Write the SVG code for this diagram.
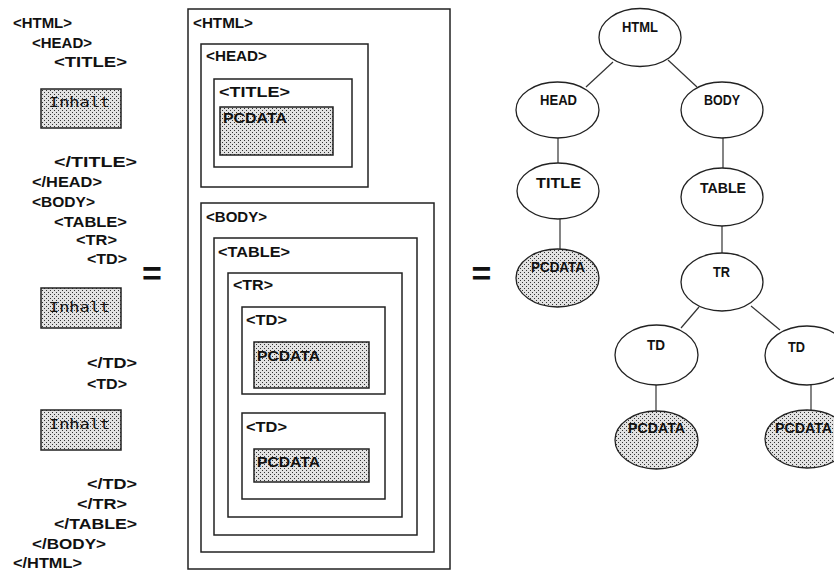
<svg xmlns="http://www.w3.org/2000/svg" width="834" height="572" viewBox="0 0 834 572">
<defs>
<pattern id="dots" width="4" height="4" patternUnits="userSpaceOnUse">
<rect width="4" height="4" fill="#e2e2e2"/>
<rect x="0" y="0" width="1" height="1" fill="#333"/>
<rect x="2" y="2" width="1" height="1" fill="#333"/>
</pattern>
<style>
.t{font-family:"Liberation Sans",Arial,sans-serif;font-weight:bold;font-size:14px;fill:#111}
.n{font-family:"Liberation Sans",Arial,sans-serif;font-weight:bold;font-size:15px;fill:#111}
.i{font-family:"DejaVu Sans Mono","Liberation Mono",monospace;font-size:14px;fill:#111}
.eq{font-family:"Liberation Sans",Arial,sans-serif;font-weight:bold;font-size:34px;fill:#111}
.box{fill:none;stroke:#222;stroke-width:1.5}
.dbox{fill:url(#dots);stroke:#222;stroke-width:1.5}
.ell{fill:#fff;stroke:#222;stroke-width:1.3}
.dell{fill:url(#dots);stroke:#222;stroke-width:1.3}
.c{stroke:#333;stroke-width:1.2;fill:none}
</style>
</defs>
<rect width="834" height="572" fill="#fff"/>

<g id="source">
<text class="t" x="13" y="28" textLength="59" lengthAdjust="spacingAndGlyphs">&lt;HTML&gt;</text>
<text class="t" x="32" y="48" textLength="60" lengthAdjust="spacingAndGlyphs">&lt;HEAD&gt;</text>
<text class="t" x="54" y="67" textLength="73" lengthAdjust="spacingAndGlyphs">&lt;TITLE&gt;</text>
<rect class="dbox" x="41" y="89" width="80" height="39"/>
<text class="i" x="49" y="107" textLength="61" lengthAdjust="spacingAndGlyphs">Inhalt</text>
<text class="t" x="54" y="167" textLength="83" lengthAdjust="spacingAndGlyphs">&lt;/TITLE&gt;</text>
<text class="t" x="32" y="187" textLength="70" lengthAdjust="spacingAndGlyphs">&lt;/HEAD&gt;</text>
<text class="t" x="32" y="207" textLength="63" lengthAdjust="spacingAndGlyphs">&lt;BODY&gt;</text>
<text class="t" x="54" y="227" textLength="73" lengthAdjust="spacingAndGlyphs">&lt;TABLE&gt;</text>
<text class="t" x="76" y="245" textLength="41" lengthAdjust="spacingAndGlyphs">&lt;TR&gt;</text>
<text class="t" x="87" y="264" textLength="40" lengthAdjust="spacingAndGlyphs">&lt;TD&gt;</text>
<rect class="dbox" x="41" y="288" width="80" height="40"/>
<text class="i" x="49" y="312" textLength="61" lengthAdjust="spacingAndGlyphs">Inhalt</text>
<text class="t" x="87" y="368" textLength="50" lengthAdjust="spacingAndGlyphs">&lt;/TD&gt;</text>
<text class="t" x="87" y="389" textLength="40" lengthAdjust="spacingAndGlyphs">&lt;TD&gt;</text>
<rect class="dbox" x="41" y="410" width="80" height="40"/>
<text class="i" x="49" y="429" textLength="61" lengthAdjust="spacingAndGlyphs">Inhalt</text>
<text class="t" x="87" y="489" textLength="50" lengthAdjust="spacingAndGlyphs">&lt;/TD&gt;</text>
<text class="t" x="77" y="509" textLength="50" lengthAdjust="spacingAndGlyphs">&lt;/TR&gt;</text>
<text class="t" x="54" y="529" textLength="83" lengthAdjust="spacingAndGlyphs">&lt;/TABLE&gt;</text>
<text class="t" x="32" y="549" textLength="74" lengthAdjust="spacingAndGlyphs">&lt;/BODY&gt;</text>
<text class="t" x="13" y="568" textLength="69" lengthAdjust="spacingAndGlyphs">&lt;/HTML&gt;</text>
</g>

<text class="eq" x="152" y="285" text-anchor="middle">=</text>
<text class="eq" x="481.5" y="285" text-anchor="middle">=</text>

<g id="box-html">
<rect class="box" x="188" y="9" width="262" height="560"/>
<text class="t" x="193" y="28" textLength="60" lengthAdjust="spacingAndGlyphs">&lt;HTML&gt;</text>
</g>
<g id="box-head">
<rect class="box" x="201" y="44" width="167" height="143"/>
<text class="t" x="206" y="61" textLength="61" lengthAdjust="spacingAndGlyphs">&lt;HEAD&gt;</text>
</g>
<g id="box-title">
<rect class="box" x="214" y="79" width="138" height="88"/>
<text class="t" x="219" y="97" textLength="71" lengthAdjust="spacingAndGlyphs">&lt;TITLE&gt;</text>
</g>
<g id="box-pcdata-title">
<rect class="dbox" x="220" y="107" width="113" height="48"/>
<text class="t" x="223" y="123" textLength="64" lengthAdjust="spacingAndGlyphs">PCDATA</text>
</g>
<g id="box-body">
<rect class="box" x="201" y="203" width="233" height="349"/>
<text class="t" x="206" y="222" textLength="61" lengthAdjust="spacingAndGlyphs">&lt;BODY&gt;</text>
</g>
<g id="box-table">
<rect class="box" x="214" y="238" width="203" height="297"/>
<text class="t" x="218" y="257" textLength="72" lengthAdjust="spacingAndGlyphs">&lt;TABLE&gt;</text>
</g>
<g id="box-tr">
<rect class="box" x="228" y="273" width="174" height="244"/>
<text class="t" x="233" y="290" textLength="40" lengthAdjust="spacingAndGlyphs">&lt;TR&gt;</text>
</g>
<g id="box-td1">
<rect class="box" x="242" y="307" width="143" height="87"/>
<text class="t" x="246" y="325" textLength="41" lengthAdjust="spacingAndGlyphs">&lt;TD&gt;</text>
</g>
<g id="box-pcdata-td1">
<rect class="dbox" x="254" y="342" width="115" height="46"/>
<text class="t" x="257" y="361" textLength="63" lengthAdjust="spacingAndGlyphs">PCDATA</text>
</g>
<g id="box-td2">
<rect class="box" x="242" y="413" width="143" height="86"/>
<text class="t" x="246" y="432" textLength="41" lengthAdjust="spacingAndGlyphs">&lt;TD&gt;</text>
</g>
<g id="box-pcdata-td2">
<rect class="dbox" x="254" y="449" width="115" height="33"/>
<text class="t" x="257" y="467" textLength="63" lengthAdjust="spacingAndGlyphs">PCDATA</text>
</g>

<g id="connectors">
<line class="c" x1="613" y1="62" x2="586" y2="87"/>
<line class="c" x1="668" y1="60" x2="697" y2="87"/>
<line class="c" x1="558" y1="138" x2="558" y2="163"/>
<line class="c" x1="723" y1="138" x2="723" y2="168"/>
<line class="c" x1="560" y1="219" x2="560" y2="249"/>
<line class="c" x1="722" y1="226" x2="722" y2="253"/>
<line class="c" x1="699" y1="307" x2="681" y2="328"/>
<line class="c" x1="751" y1="306" x2="780" y2="330"/>
<line class="c" x1="656" y1="385" x2="656" y2="411"/>
<line class="c" x1="811" y1="385" x2="811" y2="410"/>
</g>

<g id="n-html">
<ellipse class="ell" cx="640" cy="37.5" rx="41" ry="29"/>
<text class="n" x="622" y="32" textLength="36" lengthAdjust="spacingAndGlyphs">HTML</text>
</g>
<g id="n-head">
<ellipse class="ell" cx="557.5" cy="110" rx="41.5" ry="28"/>
<text class="n" x="540" y="105" textLength="37" lengthAdjust="spacingAndGlyphs">HEAD</text>
</g>
<g id="n-body">
<ellipse class="ell" cx="722" cy="110" rx="41" ry="28"/>
<text class="n" x="704" y="105" textLength="36" lengthAdjust="spacingAndGlyphs">BODY</text>
</g>
<g id="n-title">
<ellipse class="ell" cx="558" cy="191" rx="41" ry="28"/>
<text class="n" x="536" y="188" textLength="45" lengthAdjust="spacingAndGlyphs">TITLE</text>
</g>
<g id="n-table">
<ellipse class="ell" cx="722" cy="197" rx="41" ry="29"/>
<text class="n" x="700" y="193" textLength="46" lengthAdjust="spacingAndGlyphs">TABLE</text>
</g>
<g id="n-pcdata-title">
<ellipse class="dell" cx="557.5" cy="278" rx="41.5" ry="29"/>
<text class="n" x="531" y="272" textLength="54" lengthAdjust="spacingAndGlyphs">PCDATA</text>
</g>
<g id="n-tr">
<ellipse class="ell" cx="722" cy="282" rx="41" ry="29"/>
<text class="n" x="713" y="277" textLength="17" lengthAdjust="spacingAndGlyphs">TR</text>
</g>
<g id="n-td1">
<ellipse class="ell" cx="656.5" cy="355" rx="41.5" ry="30"/>
<text class="n" x="647" y="350" textLength="18" lengthAdjust="spacingAndGlyphs">TD</text>
</g>
<g id="n-td2">
<ellipse class="ell" cx="807" cy="355.5" rx="42" ry="29.5"/>
<text class="n" x="788" y="352" textLength="17" lengthAdjust="spacingAndGlyphs">TD</text>
</g>
<g id="n-pcdata-td1">
<ellipse class="dell" cx="656.5" cy="440" rx="41.5" ry="29"/>
<text class="n" x="628" y="433" textLength="57" lengthAdjust="spacingAndGlyphs">PCDATA</text>
</g>
<g id="n-pcdata-td2">
<ellipse class="dell" cx="807" cy="439" rx="42" ry="29"/>
<text class="n" x="775" y="433" textLength="57" lengthAdjust="spacingAndGlyphs">PCDATA</text>
</g>
</svg>
